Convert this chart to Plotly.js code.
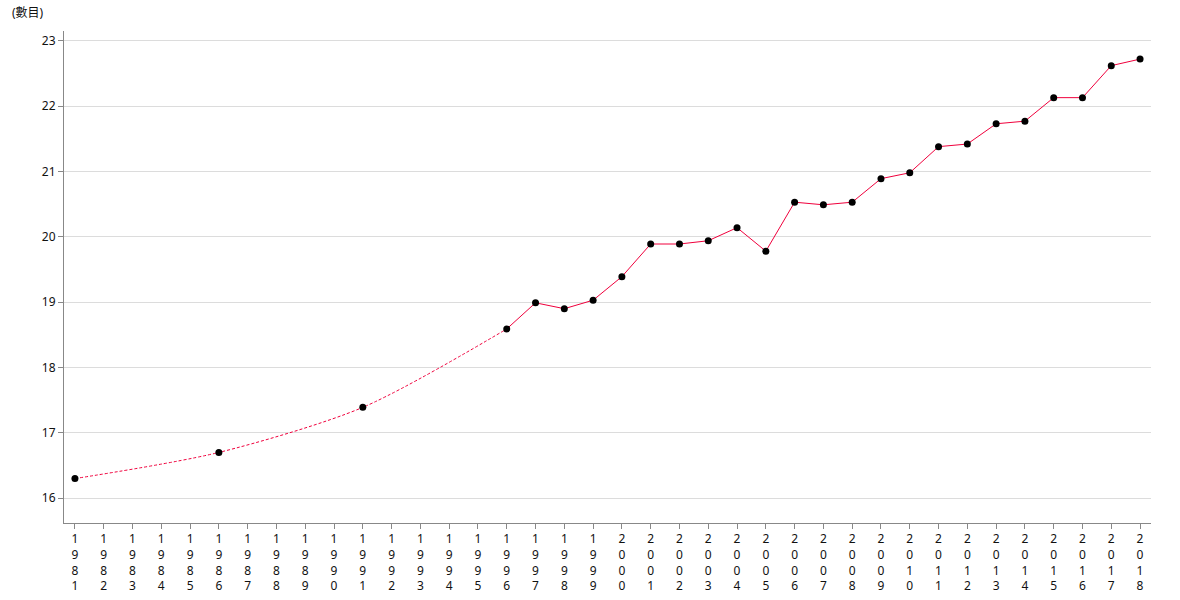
<!DOCTYPE html>
<html><head><meta charset="utf-8">
<script src="https://cdn.plot.ly/plotly-3.0.1.min.js"></script>
<style>body{margin:0;background:#fff}#chart{width:1180px;height:600px}</style>
</head><body><div id="chart"></div>
<script>
const years = ["1981","1982","1983","1984","1985","1986","1987","1988","1989","1990","1991","1992","1993","1994","1995","1996","1997","1998","1999","2000","2001","2002","2003","2004","2005","2006","2007","2008","2009","2010","2011","2012","2013","2014","2015","2016","2017","2018"];
const sparseYears = ["1981","1986","1991","1996"];
const sparseValues = [16.3, 16.7, 17.39, 18.59];
const annualYears = ["1996","1997","1998","1999","2000","2001","2002","2003","2004","2005","2006","2007","2008","2009","2010","2011","2012","2013","2014","2015","2016","2017","2018"];
const annualValues = [18.59, 18.99, 18.9, 19.03, 19.39, 19.89, 19.89, 19.94, 20.14, 19.78, 20.53, 20.49, 20.53, 20.89, 20.98, 21.38, 21.42, 21.73, 21.77, 22.13, 22.13, 22.62, 22.72];
const yTicks = [16,17,18,19,20,21,22,23];
const yAxisLabel = "(數目)";

const tickText = years.map(y => y.split("").join("<br>"));
const lineColor = "#f0003c";

const traces = [
  {x: sparseYears, y: sparseValues, type: "scatter", mode: "lines",
   line: {color: lineColor, width: 1, dash: "3px,2px", shape: "spline", smoothing: 0.8}, hoverinfo: "x+y"},
  {x: annualYears, y: annualValues, type: "scatter", mode: "lines",
   line: {color: lineColor, width: 1}, hoverinfo: "x+y"},
  {x: sparseYears.concat(annualYears.slice(1)), y: sparseValues.concat(annualValues.slice(1)),
   type: "scatter", mode: "markers", marker: {color: "#000", size: 7}, hoverinfo: "x+y"}
];

const layout = {
  width: 1180, height: 600,
  margin: {l: 64, r: 29, t: 31, b: 77},
  paper_bgcolor: "#fff", plot_bgcolor: "#fff",
  showlegend: false,
  font: {family: "Noto Sans, Noto Sans CJK TC, sans-serif", size: 12, color: "#111"},
  xaxis: {
    type: "category", categoryorder: "array", categoryarray: years,
    tickmode: "array", tickvals: years, ticktext: tickText,
    range: [-0.38, 37.38],
    showgrid: false, zeroline: false,
    showline: true, linecolor: "#888", linewidth: 1,
    ticks: "outside", ticklen: 5, tickcolor: "#888",
    tickfont: {size: 12, color: "#111"}, tickangle: 0
  },
  yaxis: {
    range: [15.62, 23.15],
    tickmode: "array", tickvals: yTicks,
    showgrid: true, gridcolor: "#dcdcdc", gridwidth: 1,
    zeroline: false, showline: true, linecolor: "#888", linewidth: 1,
    ticks: "outside", ticklen: 5, tickcolor: "#888",
    tickfont: {size: 12, color: "#111"}
  },
  annotations: [{
    text: yAxisLabel, xref: "paper", yref: "paper", x: -0.05, y: 1.0, yshift: 8,
    xanchor: "left", yanchor: "bottom", showarrow: false,
    font: {size: 12, color: "#111"}
  }]
};
Plotly.newPlot("chart", traces, layout, {displayModeBar: false, staticPlot: true});
</script></body></html>
